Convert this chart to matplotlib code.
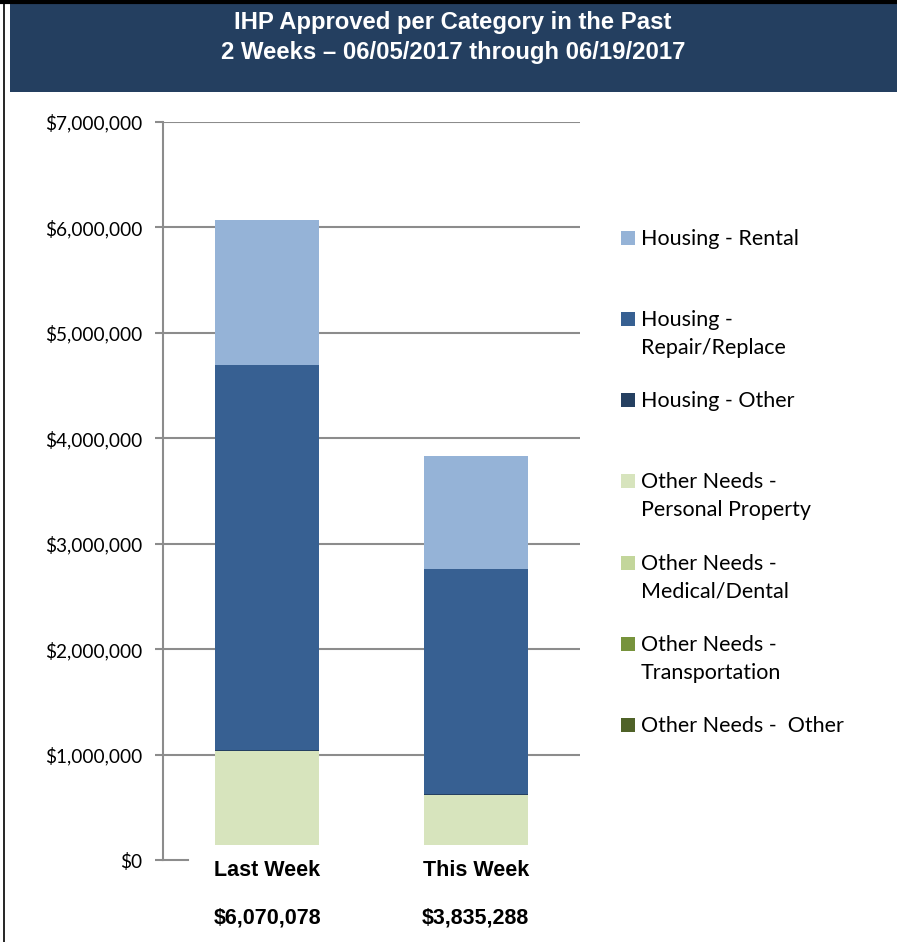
import matplotlib.pyplot as plt
from matplotlib.patches import Rectangle
from matplotlib.ticker import FuncFormatter

weeks = ['Last Week', 'This Week']
totals = ['$6,070,078', '$3,835,288']

# unlabelled white gap at the bottom of each bar
base = [142000, 142000]

series = [
    'Other Needs -  Other',
    'Other Needs -\nTransportation',
    'Other Needs -\nMedical/Dental',
    'Other Needs -\nPersonal Property',
    'Housing - Other',
    'Housing -\nRepair/Replace',
    'Housing - Rental',
]
values = [
    [0, 0],
    [0, 0],
    [0, 0],
    [893000, 475000],
    [12000, 6000],
    [3648000, 2137000],
    [1375000, 1075000],
]
colors = ['#4F6228', '#77933C', '#C3D69B', '#D7E4BD', '#254061', '#376092', '#95B3D7']

W, H = 897, 942
fig = plt.figure(figsize=(W / 100, H / 100), dpi=100)

# title bar
fig.add_artist(Rectangle((10 / W, 1 - 92 / H), 1, 89 / H, transform=fig.transFigure,
                         facecolor='#243F60', edgecolor='none'))
fig.add_artist(plt.Line2D([0, 1], [1 - 2 / H, 1 - 2 / H], transform=fig.transFigure,
                          color='black', lw=3))
fig.add_artist(plt.Line2D([4 / W, 4 / W], [0, 1], transform=fig.transFigure,
                          color='black', lw=1.2))
fig.text(453 / W, 1 - 22 / H, 'IHP Approved per Category in the Past', color='white',
         fontsize=17.2, fontweight='bold', family='Liberation Sans', ha='center', va='center')
fig.text(453 / W, 1 - 53 / H, '2 Weeks \u2013 06/05/2017 through 06/19/2017', color='white',
         fontsize=17.2, fontweight='bold', family='Liberation Sans', ha='center', va='center')

ax = fig.add_axes([163 / W, 82 / H, 417 / W, 738 / H])
x = range(len(weeks))
bottom = list(base)
for vals, col in zip(values, colors):
    ax.bar(x, vals, 0.5, bottom=bottom, color=col, zorder=3)
    bottom = [b + v for b, v in zip(bottom, vals)]

ax.set_xlim(-0.5, 1.5)
ax.set_ylim(0, 7000000)
ax.set_yticks(range(0, 7000001, 1000000))
ax.yaxis.set_major_formatter(FuncFormatter(lambda v, p: '${:,.0f}'.format(v)))
ax.grid(axis='y', color='#8C8C8C', lw=1.5, zorder=0)
ax.yaxis.get_gridlines()[0].set_visible(False)
ax.plot([0, 0.06], [0, 0], transform=ax.get_yaxis_transform(), color='#8C8C8C',
        lw=1.5, clip_on=False)
for s in ['top', 'right', 'bottom']:
    ax.spines[s].set_visible(False)
ax.spines['left'].set_color('#8C8C8C')
ax.spines['left'].set_linewidth(1.5)
ax.tick_params(axis='y', length=6, width=1.5, color='#8C8C8C', labelsize=13.7, pad=9)
for lab in ax.get_yticklabels():
    lab.set_family('Lato')
ax.set_xticks([])

for i, (w, t) in enumerate(zip(weeks, totals)):
    ax.text(i, -11 / 738 * 7000000, w, ha='center', va='center', fontsize=15.5,
            fontweight='bold', family='Liberation Sans')
    ax.text(i, -58 / 738 * 7000000, t, ha='center', va='center', fontsize=15.5,
            fontweight='bold', family='Liberation Sans')

# legend, top entry first (first-line baselines in pixels)
legend_y = [244, 325, 406, 487, 569, 650, 731]
for yy, name, col in zip(legend_y, series[::-1], colors[::-1]):
    fig.add_artist(Rectangle((621 / W, 1 - (yy + 1) / H), 14 / W, 14 / H,
                             transform=fig.transFigure, facecolor=col, edgecolor='none'))
    fig.text(641 / W, 1 - (yy - 15) / H, name, fontsize=15.5, family='Lato', va='top',
             linespacing=1.5)

fig.savefig('out.png', dpi=100)
